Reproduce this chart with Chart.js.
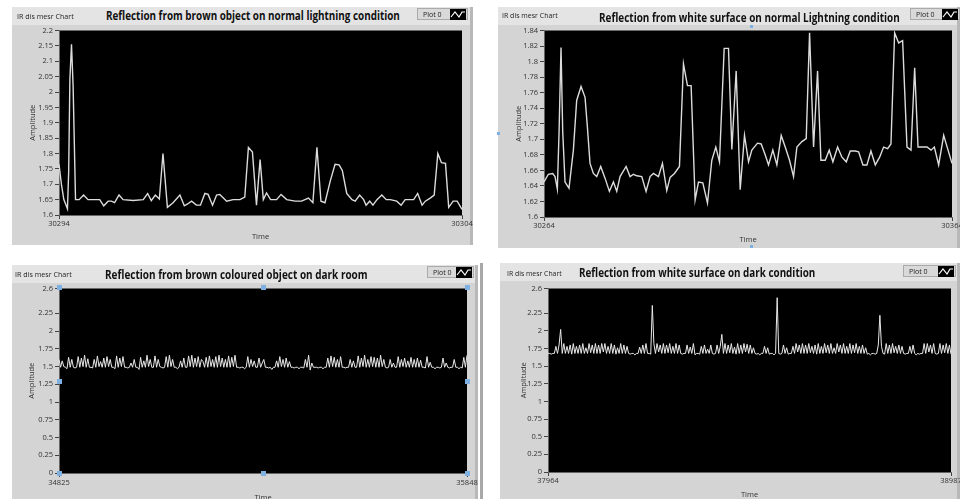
<!DOCTYPE html>
<html>
<head>
<meta charset="utf-8">
<script src="https://cdn.jsdelivr.net/npm/chart.js@4.4.1/dist/chart.umd.min.js"></script>
<style>
  body { margin: 0; width: 960px; height: 499px; overflow: hidden; position: relative; background: #fff; font-family: "Open Sans", sans-serif; }
  .panel { position: absolute; background: #d4d4d4; border-right: 3px solid #b8b8b8; box-sizing: border-box; }
  .head { position: absolute; left: 0; right: 0; top: 0; height: 18px; background: #e4e4e4; }
  .lbl { position: absolute; white-space: nowrap; transform-origin: left center; line-height: 1; }
  .title { font-weight: 700; font-size: 12px; color: #111; }
  .name { font-size: 8px; color: #222; }
  .legend { position: absolute; height: 12px; background: #d9d9d9; border: 1px solid #aaa; box-sizing: border-box; font-size: 7px; color: #222; }
  .legend span { position: absolute; left: 5px; top: 1px; }
  .legend svg { position: absolute; right: 1px; top: 0px; }
  canvas { position: absolute; }
  .handle { position: absolute; width: 5px; height: 5px; background: #7fb0e2; }
</style>
</head>
<body>

<div class="panel" style="left:12px;top:7px;width:461px;height:238px"><div class="head"></div></div>
<div class="panel" style="left:498px;top:7px;width:462px;height:241px"><div class="head"></div></div>
<div class="panel" style="left:12px;top:265px;width:466px;height:240px"><div class="head"></div></div>
<div class="panel" style="left:500px;top:263px;width:460px;height:240px"><div class="head"></div></div>
<div style="position:absolute;left:480px;top:263px;width:3px;height:240px;background:#a8a8a8"></div>

<canvas id="c1" width="461" height="221" style="left:12px;top:24px"></canvas>
<canvas id="c2" width="462" height="224" style="left:498px;top:24px"></canvas>
<canvas id="c3" width="470" height="223" style="left:12px;top:282px"></canvas>
<canvas id="c4" width="460" height="223" style="left:500px;top:282px"></canvas>

<script>
// Chart 1: brown object, normal lighting (time offsets from 30294)
const brownNormalTime = [0,0.06,0.12,0.21,0.24,0.27,0.31,0.35,0.41,0.50,
  0.61,0.72,1.01,1.11,1.22,1.30,1.38,1.49,1.59,1.84,
  2.09,2.20,2.29,2.39,2.49,2.58,2.69,2.83,3.00,3.11,
  3.18,3.29,3.41,3.51,3.62,3.70,3.81,3.91,3.99,4.16,
  4.32,4.49,4.61,4.70,4.80,4.90,4.99,5.07,5.15,5.25,
  5.40,5.51,5.65,5.86,6.02,6.19,6.30,6.40,6.50,6.60,
  6.73,6.85,6.95,7.03,7.14,7.27,7.35,7.46,7.56,7.62,
  7.71,7.79,7.89,8.01,8.12,8.22,8.38,8.49,8.59,8.72,
  8.80,8.90,9.01,9.09,9.21,9.31,9.40,9.49,9.59,9.67,
  9.78,9.88,10.0];
const brownNormalAmp = [1.765,1.70,1.65,1.62,1.74,2.04,2.155,2.02,1.65,1.65,
  1.665,1.65,1.65,1.63,1.645,1.645,1.64,1.665,1.65,1.647,
  1.65,1.67,1.647,1.665,1.652,1.80,1.625,1.64,1.665,1.63,
  1.635,1.645,1.632,1.632,1.67,1.667,1.632,1.665,1.667,1.645,
  1.65,1.65,1.658,1.82,1.805,1.632,1.78,1.65,1.672,1.65,
  1.65,1.667,1.65,1.645,1.645,1.655,1.64,1.82,1.645,1.64,
  1.71,1.765,1.763,1.745,1.67,1.65,1.645,1.665,1.65,1.632,
  1.645,1.632,1.65,1.665,1.65,1.65,1.645,1.632,1.65,1.65,
  1.65,1.67,1.632,1.645,1.655,1.665,1.80,1.77,1.768,1.625,
  1.645,1.645,1.618];

// Chart 2: white surface, normal lighting (time offsets from 30264)
const whiteNormalTime = [0,1.06,2.13,2.70,3.27,3.68,4.17,4.58,5.15,6.13,
  7.20,8.01,9.08,10.06,10.63,11.28,12.10,12.92,13.90,14.96,
  16.03,17.01,17.83,18.64,20.12,21.10,21.91,22.73,23.96,25.02,
  26.00,26.82,28.05,29.03,30.09,30.91,31.97,33.20,34.18,35.16,
  36.06,37.04,37.86,38.92,40.07,41.13,42.11,43.01,44.16,45.22,
  46.04,47.10,48.08,49.14,50.13,50.94,52.33,53.23,54.21,55.03,
  56.09,57.07,58.14,59.12,60.18,61.16,61.98,63.21,64.27,65.09,
  66.07,67.05,67.87,68.93,69.91,70.81,71.96,73.02,74.08,75.06,
  76.29,77.11,78.17,79.15,80.13,81.20,82.26,83.24,84.22,85.04,
  85.94,86.92,87.90,88.97,89.95,90.85,91.67,92.64,93.87,94.85,
  95.67,96.73,97.96,100];
const whiteNormalAmp = [1.645,1.655,1.656,1.652,1.636,1.707,1.818,1.711,1.645,1.637,
  1.686,1.75,1.768,1.754,1.716,1.669,1.656,1.652,1.665,1.65,
  1.633,1.645,1.633,1.652,1.665,1.652,1.655,1.653,1.652,1.633,
  1.652,1.656,1.652,1.669,1.634,1.651,1.656,1.665,1.797,1.769,
  1.769,1.622,1.645,1.644,1.618,1.673,1.69,1.671,1.817,1.817,
  1.687,1.788,1.635,1.705,1.671,1.686,1.695,1.694,1.68,1.667,
  1.686,1.667,1.705,1.69,1.673,1.652,1.69,1.697,1.701,1.837,
  1.69,1.788,1.673,1.673,1.686,1.671,1.69,1.677,1.671,1.685,
  1.685,1.684,1.667,1.667,1.685,1.667,1.677,1.69,1.688,1.694,
  1.837,1.824,1.827,1.69,1.686,1.792,1.69,1.69,1.69,1.686,
  1.69,1.667,1.705,1.669];

// Chart 3: brown object, dark room (evenly spaced samples 34825..35848)
const brownDarkAmp = [
  1.6,1.49,1.58,1.5,1.49,1.47,1.63,1.49,1.6,1.49,1.48,1.49,1.64,1.49,1.62,1.5,
  1.66,1.49,1.61,1.49,1.49,1.48,1.6,1.49,1.65,1.5,1.57,1.49,1.62,1.49,1.64,1.5,
  1.6,1.49,1.49,1.47,1.65,1.49,1.62,1.5,1.64,1.49,1.49,1.48,1.49,1.55,1.49,1.6,
  1.49,1.49,1.46,1.63,1.49,1.58,1.49,1.66,1.5,1.6,1.49,1.49,1.65,1.49,1.6,1.5,
  1.49,1.48,1.49,1.64,1.49,1.66,1.5,1.6,1.49,1.49,1.47,1.49,1.58,1.49,1.62,1.49,
  1.49,1.65,1.5,1.66,1.49,1.62,1.5,1.64,1.49,1.6,1.57,1.49,1.63,1.49,1.65,1.5,
  1.6,1.49,1.64,1.49,1.66,1.5,1.62,1.49,1.6,1.49,1.65,1.49,1.63,1.5,1.66,1.49,
  1.49,1.48,1.49,1.49,1.47,1.49,1.64,1.49,1.6,1.5,1.58,1.49,1.49,1.62,1.49,1.55,
  1.6,1.49,1.49,1.48,1.49,1.46,1.49,1.49,1.58,1.49,1.64,1.5,1.6,1.49,1.62,1.49,
  1.57,1.49,1.49,1.48,1.49,1.49,1.47,1.49,1.49,1.48,1.6,1.49,1.66,1.45,1.55,1.49,
  1.49,1.49,1.48,1.49,1.49,1.47,1.49,1.49,1.62,1.49,1.65,1.5,1.63,1.49,1.6,1.49,
  1.64,1.49,1.49,1.48,1.49,1.49,1.6,1.49,1.58,1.49,1.49,1.65,1.49,1.62,1.5,1.66,
  1.49,1.6,1.49,1.64,1.5,1.63,1.49,1.62,1.49,1.66,1.5,1.6,1.49,1.48,1.49,1.6,
  1.49,1.55,1.49,1.49,1.64,1.49,1.6,1.5,1.62,1.49,1.58,1.49,1.63,1.49,1.6,1.49,
  1.62,1.49,1.59,1.49,1.49,1.48,1.64,1.49,1.56,1.49,1.49,1.47,1.49,1.49,1.48,1.49,
  1.62,1.49,1.55,1.49,1.48,1.49,1.49,1.6,1.49,1.49,1.47,1.49,1.48,1.63,1.49,1.66];

// Chart 4: white surface, dark condition (evenly spaced samples 37964..38987)
const whiteDarkAmp = [
  1.68,1.68,1.67,1.68,1.68,1.78,1.68,1.8,2.02,1.68,1.82,1.68,1.78,1.68,1.8,1.67,
  1.82,1.68,1.78,1.68,1.8,1.68,1.82,1.68,1.76,1.68,1.82,1.69,1.8,1.68,1.82,1.68,
  1.8,1.68,1.82,1.7,1.82,1.68,1.78,1.68,1.82,1.68,1.8,1.67,1.76,1.68,1.82,1.68,
  1.8,1.68,1.78,1.68,1.67,1.68,1.68,1.66,1.68,1.68,1.77,1.68,1.8,1.68,1.82,1.68,
  1.68,1.67,2.36,1.82,1.68,1.82,1.7,1.8,1.68,1.82,1.68,1.8,1.69,1.82,1.68,1.78,
  1.68,1.82,1.68,1.8,1.68,1.67,1.68,1.68,1.8,1.68,1.77,1.68,1.82,1.66,1.68,1.68,
  1.67,1.78,1.68,1.8,1.68,1.74,1.68,1.8,1.68,1.67,1.68,1.8,1.68,1.78,1.95,1.68,
  1.82,1.68,1.8,1.69,1.82,1.68,1.77,1.67,1.82,1.68,1.8,1.68,1.82,1.7,1.81,1.68,
  1.8,1.68,1.76,1.68,1.67,1.68,1.66,1.68,1.68,1.78,1.68,1.76,1.67,1.68,1.68,1.66,
  1.68,2.47,1.68,1.67,1.68,1.8,1.68,1.76,1.67,1.68,1.68,1.78,1.68,1.82,1.7,1.8,
  1.68,1.82,1.68,1.8,1.68,1.82,1.69,1.78,1.68,1.8,1.67,1.82,1.68,1.78,1.68,1.82,
  1.69,1.8,1.68,1.82,1.68,1.76,1.68,1.82,1.7,1.8,1.68,1.82,1.68,1.78,1.68,1.82,
  1.68,1.8,1.69,1.82,1.68,1.78,1.68,1.8,1.68,1.76,1.67,1.68,1.66,1.68,1.68,1.67,
  1.68,1.8,2.22,1.78,1.68,1.67,1.82,1.68,1.8,1.68,1.82,1.69,1.78,1.68,1.8,1.68,
  1.78,1.68,1.67,1.68,1.68,1.78,1.68,1.8,1.68,1.66,1.68,1.67,1.68,1.68,1.82,1.68,
  1.82,1.7,1.8,1.68,1.82,1.68,1.67,1.68,1.82,1.68,1.8,1.69,1.82,1.68,1.8,1.67];

// Axis tick labels
const brownNormalTicks = [1.6,1.65,1.7,1.75,1.8,1.85,1.9,1.95,2,2.05,2.1,2.15,2.2];
const whiteNormalTicks = [1.6,1.62,1.64,1.66,1.68,1.7,1.72,1.74,1.76,1.78,1.8,1.82,1.84];
const darkTicks = [0,0.25,0.5,0.75,1,1.25,1.5,1.75,2,2.25,2.6];

const titles = [
  "Reflection from brown object on normal lightning condition",
  "Reflection from white surface on normal Lightning condition",
  "Reflection from brown coloured object on dark room",
  "Reflection from white surface on dark condition"
];

// fill plot area black, like the LabVIEW chart
const plotBg = {
  id: "plotBg",
  beforeDraw(chart) {
    const { ctx, chartArea: a } = chart;
    ctx.save();
    ctx.fillStyle = "#000";
    ctx.fillRect(a.left, a.top, a.right - a.left, a.bottom - a.top);
    ctx.restore();
  }
};

const FONT = "'Open Sans', sans-serif";

function makeChart(id, points, o) {
  return new Chart(document.getElementById(id), {
    type: "line",
    data: {
      datasets: [{
        data: points,
        borderColor: o.lineColor || "#dcdcdc",
        borderWidth: o.lineWidth || 1.4,
        pointRadius: 0,
        tension: 0
      }]
    },
    options: {
      responsive: false,
      animation: false,
      devicePixelRatio: 1,
      layout: { padding: { left: 0, right: o.padRight, top: 5, bottom: 0 } },
      plugins: { legend: { display: false }, tooltip: { enabled: false } },
      scales: {
        x: {
          type: "linear",
          min: o.xMin, max: o.xMax,
          afterBuildTicks: s => { s.ticks = [{ value: o.xMin }, { value: o.xMax }]; },
          afterFit: s => { s.height = o.xAxisH; s.paddingLeft = 0; s.paddingRight = 0; },
          ticks: { autoSkip: false, maxRotation: 0, padding: o.xTickPad, color: "#333",
                   font: { family: FONT, size: 7.5 }, callback: v => String(v) },
          grid: { drawOnChartArea: false, drawTicks: true, tickLength: 4, color: "#444" },
          border: { color: "#666" },
          title: { display: true, text: "Time", color: "#333", font: { family: FONT, size: 7.5 },
                   padding: { top: 0, bottom: o.xTitlePad } }
        },
        y: {
          min: o.yMin, max: o.yMax,
          afterBuildTicks: s => { s.ticks = o.yTicks.map(v => ({ value: v })); },
          afterFit: s => { s.width = o.yAxisW; },
          ticks: { autoSkip: false, padding: 2, color: "#333",
                   font: { family: FONT, size: 7.5 }, callback: v => String(+v.toFixed(2)) },
          grid: { drawOnChartArea: false, drawTicks: true, tickLength: 4, color: "#444" },
          border: { color: "#666" },
          title: { display: true, text: "Amplitude", color: "#333", font: { family: FONT, size: 7.5 },
                   padding: { top: o.yTitlePad, bottom: 0 } }
        }
      }
    },
    plugins: [plotBg]
  });
}

makeChart("c1", brownNormalTime.map((t, i) => ({ x: 30294 + t, y: brownNormalAmp[i] })), {
  xMin: 30294, xMax: 30304, yMin: 1.6, yMax: 2.2, yTicks: brownNormalTicks,
  yAxisW: 47, xAxisH: 30, padRight: 11, xTickPad: 0, xTitlePad: 3.5, yTitlePad: 16.5
});
makeChart("c2", whiteNormalTime.map((t, i) => ({ x: 30264 + t, y: whiteNormalAmp[i] })), {
  xMin: 30264, xMax: 30364, yMin: 1.6, yMax: 1.84, yTicks: whiteNormalTicks,
  yAxisW: 46, xAxisH: 31, padRight: 8, xTickPad: 0, xTitlePad: 3.5, yTitlePad: 16.5
});
makeChart("c3", brownDarkAmp.map((v, i) => ({ x: 34825 + i * (35848 - 34825) / (brownDarkAmp.length - 1), y: v })), {
  xMin: 34825, xMax: 35848, yMin: 0, yMax: 2.6, yTicks: darkTicks,
  yAxisW: 47, xAxisH: 32, padRight: 15, xTickPad: 1.5, xTitlePad: 2.5, yTitlePad: 15.5,
  lineColor: "#e8e8e8", lineWidth: 1
});
makeChart("c4", whiteDarkAmp.map((v, i) => ({ x: 37964 + i * (38987 - 37964) / (whiteDarkAmp.length - 1), y: v })), {
  xMin: 37964, xMax: 38987, yMin: 0, yMax: 2.6, yTicks: darkTicks,
  yAxisW: 48, xAxisH: 33, padRight: 9, xTickPad: 0, xTitlePad: 5.5, yTitlePad: 19.5,
  lineColor: "#e8e8e8", lineWidth: 1
});

// header texts: text, class, left, centre y, target width
function addLabel(text, cls, left, cy, w) {
  const el = document.createElement("div");
  el.className = "lbl " + cls;
  el.textContent = text;
  document.body.appendChild(el);
  el.style.left = left + "px";
  el.style.top = (cy - el.offsetHeight / 2) + "px";
  el.style.transform = "scaleX(" + (w / el.offsetWidth) + ")";
}
addLabel(titles[0], "title", 106, 16, 294);
addLabel(titles[1], "title", 599, 18, 301);
addLabel(titles[2], "title", 105, 275, 263);
addLabel(titles[3], "title", 579, 273, 236);
addLabel("IR dis mesr Chart", "name", 17, 16, 57);
addLabel("IR dis mesr Chart", "name", 502, 15, 56);
addLabel("IR dis mesr Chart", "name", 15, 274, 57);
addLabel("IR dis mesr Chart", "name", 507, 273, 55);

function addLegend(left, top, w) {
  const el = document.createElement("div");
  el.className = "legend";
  el.style.left = left + "px";
  el.style.top = top + "px";
  el.style.width = w + "px";
  el.innerHTML = '<span>Plot 0</span><svg width="16" height="11"><rect width="16" height="11" fill="#000"/>' +
    '<polyline points="1,8 5,3 9,8 12,3 15,3" fill="none" stroke="#fff" stroke-width="1.2"/></svg>';
  document.body.appendChild(el);
}
addLegend(417, 8, 51);
addLegend(910, 8, 50);
addLegend(427, 266, 47);
addLegend(903, 265, 53);

// selection handles visible in the screenshot
[[57,285],[261,285],[465,285],[57,379],[465,379],[57,471],[261,471],[465,471],
 [750,25],[497,132],[750,245]].forEach(([x, y]) => {
  const h = document.createElement("div");
  h.className = "handle";
  h.style.left = x + "px";
  h.style.top = y + "px";
  if (x > 480) { h.style.width = "3px"; h.style.height = "3px"; }
  document.body.appendChild(h);
});
</script>
</body>
</html>
